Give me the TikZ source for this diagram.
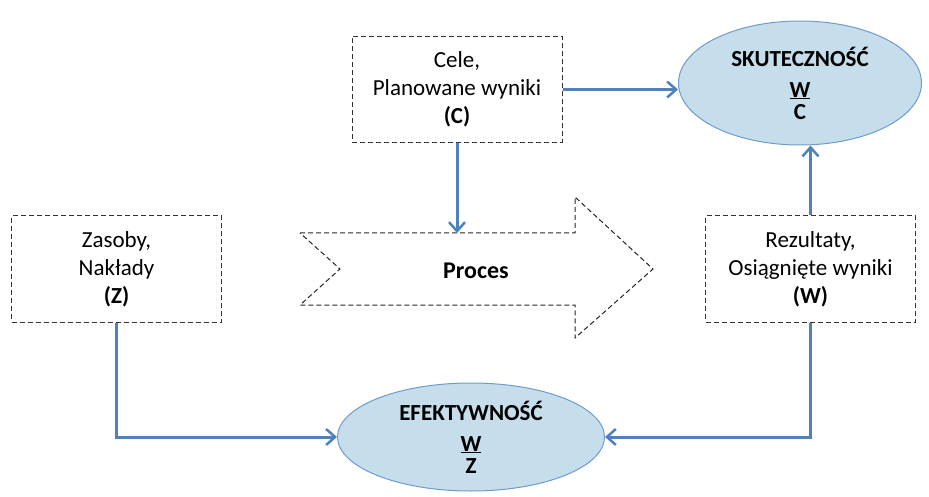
\documentclass[tikz,border=0pt]{standalone}
\usepackage{fontspec}
\setmainfont{Carlito}
\usetikzlibrary{shapes.geometric,arrows.meta}
\definecolor{arrowblue}{RGB}{79,129,189}
\definecolor{ellfill}{RGB}{198,222,235}
\definecolor{elldraw}{RGB}{110,155,205}
\newcommand{\myfrac}[2]{\underline{#1}\\[-7pt]#2}
\tikzset{
  dbox/.style={draw=black!80, line width=1pt, dash pattern=on 5pt off 3pt, minimum width=210pt, minimum height=106pt, align=center, font=\fontsize{23}{28}\selectfont, inner sep=0pt},
  ell/.style={ellipse, draw=elldraw, fill=ellfill, line width=1pt, align=center, font=\bfseries\fontsize{23}{29}\selectfont, inner sep=0pt},
  conn/.style={draw=arrowblue, line width=3pt, -{Straight Barb[length=9pt,width=16pt,line width=2.5pt]}},
}
\begin{document}
\begin{tikzpicture}[x=1pt,y=-1pt]
\useasboundingbox (0,0) rectangle (929,497);
\node[dbox] (cele) at (457,89.5) {Cele,\\Planowane wyniki\\\textbf{(C)}};
\node[dbox] (zas) at (116.5,269) {Zasoby,\\Nakłady\\\textbf{(Z)}};
\node[dbox] (rez) at (810.5,269) {Rezultaty,\\Osiągnięte wyniki\\\textbf{(W)}};
\node[ell, minimum width=243pt, minimum height=124pt] (sku) at (800,83) {SKUTECZNOŚĆ\\[2pt]\myfrac{W}{C}};
\node[ell, minimum width=267pt, minimum height=108pt] (efe) at (471,437) {EFEKTYWNOŚĆ\\[2pt]\myfrac{W}{Z}};
% process arrow
\draw[draw=black!85, line width=1pt, dash pattern=on 5pt off 3pt]
  (300,233) -- (575,233) -- (575,197) -- (653,269) -- (575,338) -- (575,305) -- (300,305) -- (340,269) -- cycle;
\node[font=\bfseries\fontsize{24}{28}\selectfont] (proc) at (476,271) {Proces};
\coordinate (ptop) at (457,233);
\draw[conn] (cele.east) -- (sku.west |- cele.east);
\draw[conn] (cele.south) -- (ptop);
\draw[conn] (rez.north) -- (rez.north |- sku.south);
\draw[conn] (zas.south) |- (efe.west);
\draw[conn] (rez.south) |- (efe.east);
\end{tikzpicture}
\end{document}
